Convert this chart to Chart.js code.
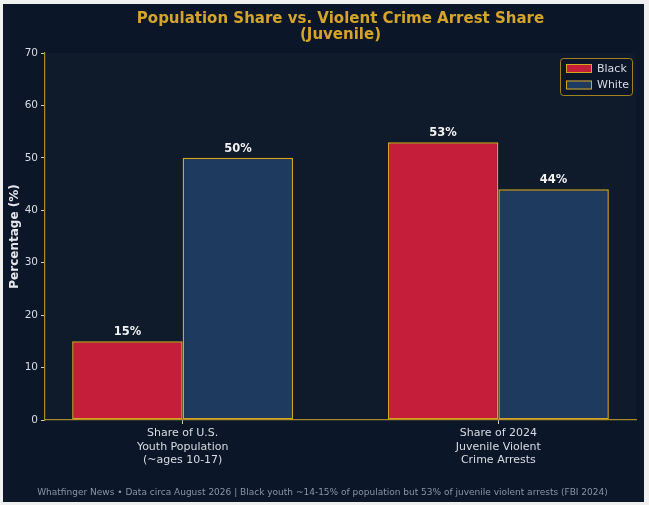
<!DOCTYPE html>
<html>
<head>
<meta charset="utf-8">
<script src="https://cdn.jsdelivr.net/npm/chart.js@4.4.1/dist/chart.umd.min.js"></script>
<style>
  html, body { margin: 0; padding: 0; background: #f0f0f0; }
  #wrap { position: absolute; left: 3px; top: 4px; width: 641px; height: 498px; background: #0b1628; }
</style>
</head>
<body>
<div id="wrap"><canvas id="c"></canvas></div>
<script>
const categories = [
  ["Share of U.S.", "Youth Population", "(~ages 10-17)"],
  ["Share of 2024", "Juvenile Violent", "Crime Arrests"]
];
const seriesNames = ["Black", "White"];
const blackValues = [15, 53];
const whiteValues = [50, 44];
const yTicks = [0, 10, 20, 30, 40, 50, 60, 70];
const titleLines = ["Population Share vs. Violent Crime Arrest Share", "(Juvenile)"];
const footerText = "Whatfinger News \u2022 Data circa August 2026 | Black youth ~14-15% of population but 53% of juvenile violent arrests (FBI 2024)";

const RED = "#c41e3a", BLUE = "#1f3a5f", GOLD = "#d4a520", SPINE = "#a88a2a", TITLE_GOLD = "#d4a52a";
const FIG_BG = "#0b1628", AX_BG = "#0f1a2a", TXT = "#d9dde3";
const FONT = "'DejaVu Sans', sans-serif";

const toPts = arr => arr.map((v, i) => ({ x: i, y: v }));

const decor = {
  id: "decor",
  beforeDraw(chart) {
    const { ctx, chartArea: a } = chart;
    ctx.save();
    ctx.fillStyle = AX_BG;
    ctx.fillRect(a.left, a.top, a.right - a.left, a.bottom - a.top);
    ctx.restore();
  },
  afterDatasetsDraw(chart) {
    const { ctx } = chart;
    ctx.save();
    ctx.font = "bold 11.5px " + FONT;
    ctx.fillStyle = "#f2f2f2";
    ctx.textAlign = "center";
    ctx.textBaseline = "middle";
    chart.data.datasets.forEach((ds, di) => {
      const meta = chart.getDatasetMeta(di);
      meta.data.forEach((bar, i) => {
        ctx.fillText(ds.data[i].y + "%", bar.x, bar.y - 9);
      });
    });
    ctx.restore();
  },
  afterDraw(chart) {
    const { ctx, chartArea: a, width } = chart;
    ctx.save();
    // title
    const cx = (a.left + a.right) / 2;
    ctx.fillStyle = TITLE_GOLD;
    ctx.font = "bold 15px " + FONT;
    ctx.textAlign = "center";
    ctx.textBaseline = "middle";
    ctx.fillText(titleLines[0], cx, 15.5);
    ctx.fillText(titleLines[1], cx, 31.5);
    // footer
    ctx.fillStyle = "#8a94a4";
    ctx.font = "9px " + FONT;
    ctx.fillText(footerText, width / 2 - 1, 489);
    // legend
    const lx = 557, ly = 54, lw = 72, lh = 37;
    ctx.beginPath();
    ctx.roundRect(lx + 0.5, ly + 0.5, lw, lh, 3);
    ctx.fillStyle = "rgba(11,22,40,0.85)";
    ctx.fill();
    ctx.strokeStyle = "rgba(212,165,32,0.75)";
    ctx.lineWidth = 1;
    ctx.stroke();
    chart.data.datasets.forEach((ds, di) => {
      const sy = ly + 6 + di * 16.5;
      ctx.fillStyle = ds.backgroundColor;
      ctx.fillRect(lx + 6, sy, 26, 9);
      ctx.strokeStyle = GOLD;
      ctx.lineWidth = 1;
      ctx.strokeRect(lx + 6.5, sy + 0.5, 25, 8);
      ctx.fillStyle = TXT;
      ctx.font = "11px " + FONT;
      ctx.textAlign = "left";
      ctx.fillText(ds.label, lx + 37, sy + 5);
    });
    ctx.restore();
  }
};

new Chart(document.getElementById("c"), {
  type: "bar",
  data: {
    datasets: [
      { label: seriesNames[0], data: toPts(blackValues), backgroundColor: RED, borderColor: GOLD, borderWidth: 1.5, borderSkipped: false, categoryPercentage: 0.7, barPercentage: 1.0 },
      { label: seriesNames[1], data: toPts(whiteValues), backgroundColor: BLUE, borderColor: GOLD, borderWidth: 1.5, borderSkipped: false, categoryPercentage: 0.7, barPercentage: 1.0 }
    ]
  },
  options: {
    responsive: true,
    maintainAspectRatio: false,
    animation: false,
    devicePixelRatio: 1,
    layout: { padding: { top: 49, left: 0, right: 8, bottom: 18 } },
    plugins: {
      legend: { display: false },
      title: { display: false },
      tooltip: { enabled: false }
    },
    scales: {
      x: {
        type: "linear",
        offset: false,
        min: -0.436,
        max: 1.436,
        afterBuildTicks(scale) { scale.ticks = categories.map((c, i) => ({ value: i })); },
        afterFit(scale) { scale.height = 64; },
        ticks: {
          color: TXT,
          font: { family: FONT, size: 11 },
          padding: 3,
          maxRotation: 0,
          autoSkip: false,
          callback: (v) => categories[v]
        },
        grid: { offset: false, drawOnChartArea: false, drawTicks: true, tickLength: 4, tickColor: "#c8ccd2" },
        border: { color: SPINE, width: 1.2 }
      },
      y: {
        min: 0,
        max: 70,
        afterBuildTicks(scale) { scale.ticks = yTicks.map(v => ({ value: v })); },
        afterFit(scale) { scale.width = 42; },
        ticks: { color: TXT, font: { family: FONT, size: 10.5 }, padding: 3 },
        grid: { drawOnChartArea: false, drawTicks: true, tickLength: 4, tickColor: "#c8ccd2" },
        border: { color: SPINE, width: 1.2 },
        title: { display: true, text: "Percentage (%)", color: "#e4e7eb", font: { family: FONT, size: 12, weight: "bold" }, padding: { top: 5, bottom: 0 } }
      }
    }
  },
  plugins: [decor]
});
</script>
</body>
</html>
